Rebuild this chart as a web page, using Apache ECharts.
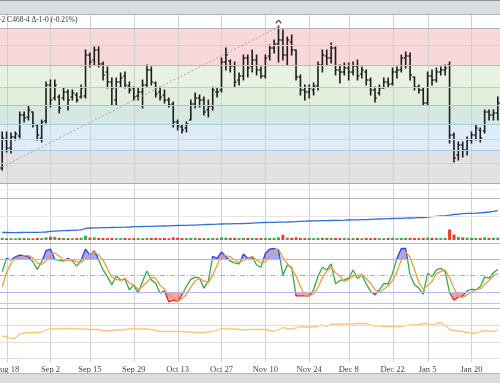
<!DOCTYPE html>
<html><head><meta charset="utf-8">
<script src="https://cdn.jsdelivr.net/npm/echarts@6/dist/echarts.min.js"></script>
<style>html,body{margin:0;padding:0;background:#fff}#c{width:500px;height:383px}</style>
</head><body><div id="c"></div><script>
const dates = ['Aug 15','Aug 18','Aug 19','Aug 20','Aug 21','Aug 22','Aug 25','Aug 26','Aug 27','Aug 28','Aug 29',
'Sep 2','Sep 3','Sep 4','Sep 5','Sep 8','Sep 9','Sep 10','Sep 11','Sep 12','Sep 15','Sep 16','Sep 17','Sep 18','Sep 19',
'Sep 22','Sep 23','Sep 24','Sep 25','Sep 26','Sep 29','Sep 30','Oct 1','Oct 2','Oct 3','Oct 6','Oct 7','Oct 8','Oct 9','Oct 10',
'Oct 13','Oct 14','Oct 15','Oct 16','Oct 17','Oct 20','Oct 21','Oct 22','Oct 23','Oct 24','Oct 27','Oct 28','Oct 29','Oct 30','Oct 31',
'Nov 3','Nov 4','Nov 5','Nov 6','Nov 7','Nov 10','Nov 11','Nov 12','Nov 13','Nov 14','Nov 17','Nov 18','Nov 19','Nov 20','Nov 21',
'Nov 24','Nov 25','Nov 26','Nov 28','Dec 1','Dec 2','Dec 3','Dec 4','Dec 5','Dec 8','Dec 9','Dec 10','Dec 11','Dec 12',
'Dec 15','Dec 16','Dec 17','Dec 18','Dec 19','Dec 22','Dec 23','Dec 24','Dec 26','Dec 29','Dec 30','Dec 31','Jan 2',
'Jan 5','Jan 6','Jan 7','Jan 8','Jan 9','Jan 12','Jan 13','Jan 14','Jan 15','Jan 16','Jan 20','Jan 21','Jan 22','Jan 23',
'Jan 26','Jan 27','Jan 28'];
const labelIdx = [1,11,20,30,40,50,60,70,79,89,97,107];

const open = [436,450,446,451.5,452,462.5,461.5,464,457.5,451,
459.5,477.5,471,471.5,471,474,471.5,472.5,471.5,472,
492.5,490,495,488,484,479,470,479,482,477,
476,472,474,477.5,485,478.5,474,472.5,470,468,
459,456.5,456,460,468,471,470,465,467,474,
475,489,489.5,487,480,482,491,487,490,485,
482,492,496,498,500,492.5,499,495,481.5,475,
474,475,477,487.5,492,491,496,485,484,486,
484,487,483,484,480,475,473.5,476,479,478,
484,485,491,492,481.5,476.5,475,468.5,482,480,
484,485,487.5,452.5,442.5,447.5,445,450,452.5,455,
454.5,464,462.5,463.5];
const high = [454,454,453.5,454,464,464,467,464,457.5,460,
479,480,480,472.5,476,475,475,473.5,477.5,495,
493.5,496.5,496.5,489,486.5,481,481,483.5,484,479,
476.5,476,480,487.5,486.5,479,476.5,475,471,469,
460,457.5,459,470,473.5,472.5,471.5,470,476.5,476,
491,496,490,489,483.5,492.5,492.5,495,492.5,486.5,
492.5,497.5,500,507,505,501.5,502.5,495,482.5,477.5,
477.5,478.5,489,495,495,498.5,496.5,487.5,488.5,488.5,
489,490,486.5,485,481,476.5,477.5,481,481,486,
486.5,492.5,494,493.5,481.5,477.5,476,484,485,486,
486.5,487.5,489,453.5,449,449,451.5,454,457.5,456,
465,465,465,471.5];
const low = [435,444,443.5,450,451,459,460,456.5,450,449,
458.5,466.5,470,463.5,470,465,470,469,471,471,
486.5,487.5,486.5,480,476,467.5,467.5,476.5,476,473.5,
470,470,466,476.5,477.5,471.5,470,468.5,466.5,456.5,
455,453.5,454,460,466,466.5,462.5,461.5,465,471.5,
474,485,484,476.5,477.5,480,481.5,484,482.5,481,
481,490,493.5,489,490,487.5,492.5,480,472.5,470,
471,472.5,475,484,487.5,488.5,482.5,478.5,482.5,480,
482.5,480,481,477.5,472.5,469,472.5,476,476.5,477.5,
481,484,486,480,475,473.5,467.5,467.5,477.5,479,
482.5,482.5,448.5,439,440,441.5,442.5,448.5,450,449,
453.5,460,460,460];
const close = [451,446,451.5,453,462.5,461,465,458,452.5,459,
477.5,470,477.5,466,474,470,473.5,470,476,492.5,
489,495,488,482.5,479,476,479,481,477.5,475,
471.5,474,477.5,485,479,473,471.5,470,467.5,459,
457,455,458,468,471,470,464,467,475,474,
489,492.5,487,479,482,491,486,490,485,482,
491,496,498,500,492.5,500,495,481.5,475,474,
476,477,487.5,492.5,491,496,485,484,486,484,
487,482,485,480,475,471,476,479,478,484,
485,491,492,482.5,476.5,475,468.5,482,480,484,
485,486,452.5,441,447.5,445,450,452.5,456,451,
464,462.5,463.5,468.5];
const volume = [150,130,140,120,160,130,140,120,150,140,
200,250,240,160,150,140,130,150,180,320,
180,200,160,150,140,150,130,140,150,130,
140,150,130,150,160,150,140,150,130,200,
180,150,140,160,150,140,130,150,160,130,
200,180,150,160,140,150,160,150,140,150,
140,150,160,200,400,180,160,200,150,140,
150,130,160,170,150,160,150,140,150,130,
140,150,130,150,140,150,140,130,150,160,
140,150,170,160,150,140,150,180,160,150,
140,150,800,420,230,200,180,170,160,150,
200,160,170,180];
const openInterest = [705,705,704,704,705,706,706,707,707,708,
710,716,719,721,723,725,727,729,731,745,
750,751,752,753,754,755,756,757,758,760,
763,764,765,766,767,768,769,770,771,773,
775,776,777,778,779,781,783,785,787,788,
790,791,792,793,794,795,797,799,801,803,
805,806,807,808,809,810,812,814,816,818,
820,821,822,823,824,825,826,827,828,830,
831,832,833,834,836,838,840,841,843,845,
846,847,849,850,851,853,855,860,863,867,
870,872,878,885,889,893,896,897,899,902,
905,910,916,923];
const stochK = [57,81,78,84,87,86,84,75,61,75,
95,98,79,78,76,81,76,67,78,98,
87,95,78,60,48,33,49,42,43,24,
33,18,39,58,42,36,18,22,2,5,
3,15,30,43,47,45,27,40,85,81,
93,84,76,73,71,89,81,84,69,65,
90,98,99,96,51,69,65,13,13,13,
13,24,48,65,60,71,35,41,42,45,
60,45,51,35,21,15,24,35,35,54,
81,99,99,51,33,27,16,54,48,60,
63,57,19,5,11,13,22,25,24,30,
47,45,55,61];
const stochD = [30,55,72,81,83,86,86,82,73,70,
77,89,91,85,78,78,78,75,74,81,
88,93,87,78,62,47,43,41,45,36,
33,25,30,38,46,45,32,25,14,10,
3,8,16,29,40,45,40,37,51,69,
86,86,84,78,73,78,80,85,78,73,
75,84,96,98,82,72,62,49,30,13,
13,17,28,46,58,65,55,49,39,43,
49,50,52,44,36,24,20,25,31,41,
57,78,93,83,61,37,25,32,39,54,
57,60,46,27,12,10,15,20,24,26,
34,41,49,54];
const lowerLine = [44,42,39,40,48,50,51,51,51,52,
56,59,58,58,59,59,58,59,58,58,
57,57,57,55,54,55,56,56,57,58,
59,58,58,58,57,55,53,53,53,53,
53,53,52,52,51,51,51,52,53,56,
59,59,58,58,57,56,57,57,57,57,
57,55,53,57,61,59,58,60,63,62,
62,62,64,66,63,68,68,68,68,68,
68,69,69,69,66,64,64,63,63,63,
63,63,65,66,66,67,69,69,66,69,
71,66,57,55,54,53,51,50,49,53,
55,54,53,56];
// Retracement band edges (price) and colours, top to bottom
const bandEdges = [506, 487.5, 476.5, 467.5, 458, 445, 428.5];
const bandColors = ['#f9d8da', '#e7f2e3', '#e0eedb', '#d6e8e2', '#deebf8', '#e2e2e4'];
const levelLines = [506, 497.5, 487.5, 476.5, 467.5, 458, 450.5, 445, 438.5];
const levelColors = ['#b4b4b4', '#f0c4c7', '#e7a6aa', '#b3d8a9', '#a8d0a3', '#a6cfcd', '#c6dcf2', '#a9c8ea', '#d2d2d2'];
const fibAnchor = [[0, 436.5], [63, 506.5]];
const headerText = '-2 C468-4 \u0394-1-0 (-0.21%)';

const P = {top: 15, h: 168}, V = {top: 198, h: 45}, S = {top: 243, h: 60}, L = {top: 308, h: 50};
const chart = echarts.init(document.getElementById('c'), null, {renderer: 'canvas'});
const serif = 'Liberation Serif';
function xa(gi, extra) {
  return Object.assign({type: 'category', gridIndex: gi, data: dates, boundaryGap: true, show: false}, extra || {});
}
const ohlcData = dates.map((d, i) => [i, open[i], high[i], low[i], close[i]]);
function renderOHLC(params, api) {
  const i = api.value(0);
  const pO = api.coord([i, api.value(1)]);
  const pH = api.coord([i, api.value(2)]);
  const pL = api.coord([i, api.value(3)]);
  const pC = api.coord([i, api.value(4)]);
  const x = pH[0];
  const st = {stroke: '#1c1c1c', lineWidth: 1.6};
  return {type: 'group', children: [
    {type: 'line', shape: {x1: x, y1: pH[1] - 0.5, x2: x, y2: pL[1] + 0.5}, style: st},
    {type: 'line', shape: {x1: x - 2, y1: pO[1], x2: x, y2: pO[1]}, style: {stroke: '#1c1c1c', lineWidth: 1.2}},
    {type: 'line', shape: {x1: x, y1: pC[1], x2: x + 2, y2: pC[1]}, style: {stroke: '#1c1c1c', lineWidth: 1.2}}
  ]};
}
function renderVLines(params, api) {
  const x = Math.round(api.coord([api.value(0), 0])[0]) + 0.5;
  const cs = params.coordSys;
  return {type: 'line', shape: {x1: x, y1: cs.y, x2: x, y2: cs.y + cs.height}, style: {stroke: '#d0d0d0', lineWidth: 1}};
}
const bandAreas = bandColors.map((c, k) => [{yAxis: bandEdges[k], itemStyle: {color: c}}, {yAxis: bandEdges[k + 1]}]);
const levelMarks = levelLines.map((v, k) => ({yAxis: v, lineStyle: {color: levelColors[k], width: 1, type: 'solid'}}));
const volColors = close.map((c, i) => i === 0 ? '#2db24a' : (c > close[i - 1] ? '#2db24a' : (c < close[i - 1] ? '#ef3b2c' : '#3344cc')));
const sep = (y, c) => ({type: 'line', z: 100, silent: true, shape: {x1: 0, y1: y, x2: 500, y2: y}, style: {stroke: c, lineWidth: 1}});

chart.setOption({
  animation: false,
  backgroundColor: '#ffffff',
  title: {text: headerText, left: -1, top: 16, padding: 0, textStyle: {fontSize: 7.5, fontWeight: 'normal', fontFamily: serif, color: '#333'}},
  grid: [
    {left: 0, right: 0, top: P.top, height: P.h, outerBoundsMode: 'none'},
    {left: 0, right: 0, top: V.top, height: V.h, outerBoundsMode: 'none'},
    {left: 0, right: 0, top: S.top, height: S.h, outerBoundsMode: 'none'},
    {left: 0, right: 0, top: L.top, height: L.h, outerBoundsMode: 'none'},
    {left: 0, right: 0, top: 15, height: 347, outerBoundsMode: 'none'}
  ],
  xAxis: [xa(0), xa(1), xa(2), xa(3),
    xa(4, {show: true, axisLine: {show: false}, axisTick: {show: false}, splitLine: {show: false},
      axisLabel: {interval: (i) => labelIdx.indexOf(i) >= 0, margin: 3, fontSize: 8.5, fontFamily: serif, color: '#444'}})],
  yAxis: [
    {gridIndex: 0, min: 428.5, max: 512.5, show: false},
    {gridIndex: 1, min: 600, max: 1050, show: false},
    {gridIndex: 1, min: -230, max: 3200, show: false},
    {gridIndex: 2, min: 0, max: 109, show: false},
    {gridIndex: 3, min: 0, max: 100, show: false},
    {gridIndex: 4, min: 0, max: 1, show: false}
  ],
  visualMap: [
    {show: false, type: 'piecewise', seriesIndex: 6, dimension: 1,
      pieces: [{gt: 80, lte: 150, color: 'rgba(88,100,238,0.55)'}, {gte: -50, lte: 80, color: 'rgba(255,255,255,0)'}]},
    {show: false, type: 'piecewise', seriesIndex: 7, dimension: 1,
      pieces: [{gte: -50, lt: 20, color: 'rgba(240,84,96,0.55)'}, {gte: 20, lte: 150, color: 'rgba(255,255,255,0)'}]},
    {show: false, type: 'piecewise', seriesIndex: 8, dimension: 1,
      pieces: [{gt: 80, lte: 150, color: '#2e3de6'}, {gte: -50, lt: 20, color: '#e8202c'}, {gte: 20, lte: 80, color: '#34a845'}]}
  ],
  series: [
    {type: 'line', xAxisIndex: 0, yAxisIndex: 0, data: dates.map(() => null), symbol: 'none', z: 0, silent: true,
      markArea: {silent: true, data: bandAreas},
      markLine: {silent: true, symbol: ['none', 'none'], label: {show: false},
        data: levelMarks.concat([[{coord: fibAnchor[0], lineStyle: {color: '#a9a9a9', width: 1, type: [2, 2]}}, {coord: fibAnchor[1]}]])}},
    {type: 'custom', xAxisIndex: 4, yAxisIndex: 5, data: labelIdx.map(i => [i, 0]), renderItem: renderVLines, z: 1, silent: true},
    {type: 'custom', xAxisIndex: 0, yAxisIndex: 0, data: ohlcData, renderItem: renderOHLC, z: 3, silent: true,
      encode: {x: 0, y: [1, 2, 3, 4]},
      markPoint: {silent: true, label: {show: false}, data: [{coord: [63, 507], symbol: 'path://M0,5 Q4,-3 8,5', symbolSize: [5, 3], symbolOffset: [0, -4],
        itemStyle: {color: 'rgba(0,0,0,0)', borderColor: '#333', borderWidth: 1}}]}},
    {type: 'line', xAxisIndex: 1, yAxisIndex: 1, data: openInterest, symbol: 'none', z: 3,
      lineStyle: {color: '#2f6fd8', width: 1.3},
      markLine: {silent: true, symbol: ['none', 'none'], label: {show: false}, data: [{yAxis: 870, lineStyle: {color: '#e6e6e6', width: 1, type: 'solid'}}]}},
    {type: 'bar', xAxisIndex: 1, yAxisIndex: 2, data: volume.map((v, i) => ({value: v, itemStyle: {color: volColors[i]}})), barWidth: 3, z: 3},
    {type: 'line', xAxisIndex: 2, yAxisIndex: 3, data: dates.map(() => null), symbol: 'none', z: 1,
      markLine: {silent: true, symbol: ['none', 'none'], label: {show: false}, data: [
        {yAxis: 80, lineStyle: {color: '#b3b7e4', width: 1.2, type: 'solid'}},
        {yAxis: 50, lineStyle: {color: '#a9add8', width: 1, type: [5, 2, 1, 2]}},
        {yAxis: 20, lineStyle: {color: '#b3b7e4', width: 1.2, type: 'solid'}}]}},
    {type: 'line', xAxisIndex: 2, yAxisIndex: 3, data: stochK, symbol: 'none', z: 2,
      lineStyle: {width: 0, opacity: 0}, areaStyle: {origin: 80, opacity: 1}},
    {type: 'line', xAxisIndex: 2, yAxisIndex: 3, data: stochK, symbol: 'none', z: 2,
      lineStyle: {width: 0, opacity: 0}, areaStyle: {origin: 20, opacity: 1}},
    {type: 'line', xAxisIndex: 2, yAxisIndex: 3, data: stochK, symbol: 'none', z: 3, lineStyle: {width: 1.3}},
    {type: 'line', xAxisIndex: 2, yAxisIndex: 3, data: stochD, symbol: 'none', z: 4, lineStyle: {width: 1.3, color: '#f39a3c'}, itemStyle: {color: '#f39a3c'}},
    {type: 'line', xAxisIndex: 3, yAxisIndex: 4, data: lowerLine, symbol: 'none', z: 3,
      lineStyle: {width: 1.3, color: '#ffc47e'}, itemStyle: {color: '#ffc47e'},
      markLine: {silent: true, symbol: ['none', 'none'], label: {show: false}, data: [
        {yAxis: 66, lineStyle: {color: '#dedede', width: 1, type: 'solid'}},
        {yAxis: 32, lineStyle: {color: '#dedede', width: 1, type: 'solid'}}]}}
  ],
  graphic: [
    {type: 'rect', z: 99, silent: true, shape: {x: 0, y: 0, width: 500, height: 14}, style: {fill: '#dadde0'}},
    {type: 'rect', z: 99, silent: true, shape: {x: 0, y: 374, width: 500, height: 9}, style: {fill: '#dadde0'}},
    sep(0.5, '#8f9398'), sep(14.5, '#b3b6b9'), sep(183.5, '#a9a9a9'), sep(189.5, '#ececec'),
    sep(198.5, '#b9b9b9'), sep(243.5, '#b9b9b9'), sep(303.5, '#c4c4c4'), sep(308.5, '#b9b9b9'),
    sep(358.5, '#dcdcdc'), sep(373.5, '#b3b6b9')
  ]
});
</script></body></html>
